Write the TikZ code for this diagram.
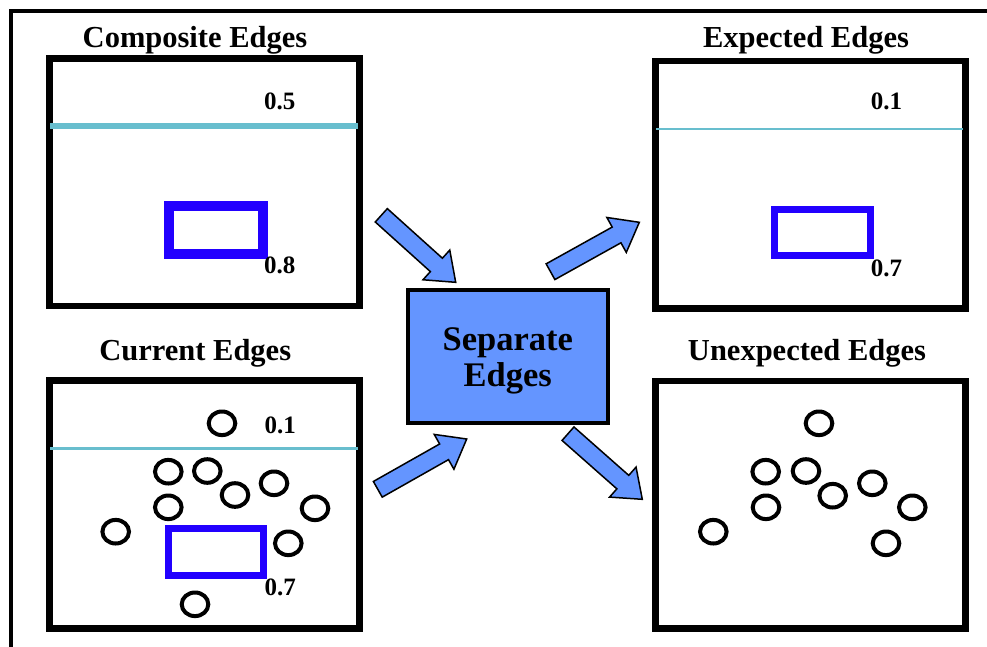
\documentclass[tikz,border=0pt]{standalone}
\usepackage{fontspec}
\setmainfont{Liberation Serif}
\usetikzlibrary{calc}

\definecolor{edgecyan}{RGB}{104,190,206}
\definecolor{rectblue}{RGB}{34,0,255}
\definecolor{arrowblue}{RGB}{100,149,255}

% fat block arrow from #1 to #2
\newcommand{\blockarrow}[2]{%
\filldraw [fill=arrowblue, draw=black, line width=1.5pt, line join=miter]
 ($(#1)!9pt!90:(#2)$) -- ($(#2)!26pt!(#1)!9pt!-90:(#1)$) -- ($(#2)!26pt!(#1)!20pt!-90:(#1)$) -- (#2)
 -- ($(#2)!26pt!(#1)!20pt!90:(#1)$) -- ($(#2)!26pt!(#1)!9pt!90:(#1)$) -- ($(#1)!9pt!-90:(#2)$) -- cycle;}

\begin{document}
\begin{tikzpicture}[x=1pt,y=1pt,
  panel/.style={draw=black, line width=6.7pt, minimum width=310.3pt, minimum height=247.7pt},
  sepbox/.style={draw=black, line width=4pt, fill=arrowblue, minimum width=199.5pt, minimum height=132.7pt,
    align=center, font=\fontsize{34.5}{36}\selectfont\bfseries},
  title/.style={font=\fontsize{30.5}{36}\selectfont\bfseries, anchor=base},
  val/.style={font=\fontsize{25}{30}\selectfont\bfseries, anchor=base west},
  dot/.style={draw=black, line width=4pt}]
\tikzstyle{every node}+=[inner sep=0pt]
\useasboundingbox (0,0) rectangle (987,-646);
% outer frame
\draw [black, line width=3.3pt] (11,-650) -- (11,-11) -- (990,-11);
% panels
\node [panel] (comp) at (204.3,-182.15) {};
\node [panel] (expct) at (810.5,-184.75) {};
\node [panel] (curr) at (204.3,-504.35) {};
\node [panel] (unexp) at (810.5,-504.75) {};
\node [title] (comptitle) at (195,-47) {Composite Edges};
\node [title] (expcttitle) at (806,-47) {Expected Edges};
\node [title] (currtitle) at (195.3,-360.7) {Current Edges};
\node [title] (unexptitle) at (807,-360.7) {Unexpected Edges};
% composite
\draw [edgecyan, line width=6pt] (50,-126) -- (357.7,-126);
\draw [rectblue, line width=10pt] (168.7,-206) rectangle (263,-253.7);
\node [val] (comptop) at (264,-109) {0.5};
\node [val] (compbot) at (264,-273.3) {0.8};
% expected
\draw [edgecyan, line width=2.5pt] (656,-129) -- (963.3,-129);
\draw [rectblue, line width=7pt] (774.7,-209) rectangle (870,-255.8);
\node [val] (expcttop) at (870.7,-109) {0.1};
\node [val] (expctbot) at (870.7,-276) {0.7};
% current
\draw [edgecyan, line width=2.5pt] (50,-448.3) -- (357.7,-448.3);
\draw [rectblue, line width=7pt] (168.7,-528.3) rectangle (263,-575.5);
\node [val] (currtop) at (264.3,-433.3) {0.1};
\node [val] (currbot) at (264.3,-595) {0.7};
\foreach \cx/\cy in {222/-423.3, 168.3/-471.7, 207.3/-471, 235/-495, 274/-483.3,
    168.3/-507.3, 315/-508.3, 115.7/-531.7, 288.3/-543.3, 195/-604.3}
  \draw [dot] (\cx,\cy) ellipse [x radius=13.3pt, y radius=11.8pt];
% unexpected
\foreach \cx/\cy in {819/-423.3, 765.7/-471.7, 806/-471, 832.7/-495.7, 872.3/-483.3,
    766/-507.3, 912.3/-507.3, 713.3/-531.7, 886/-543.3}
  \draw [dot] (\cx,\cy) ellipse [x radius=13.3pt, y radius=11.8pt];
% separator
\node [sepbox] (sep) at (507.75,-356.65) {\rule{0pt}{32pt}Separate\\Edges};
% arrows
\coordinate (fromcomp) at (381.3,-215.3);
\coordinate (sepin1) at (455.7,-282.3);
\coordinate (sepout1) at (550.5,-271.7);
\coordinate (toexpct) at (639.3,-222.3);
\coordinate (fromcurr) at (377.8,-489.3);
\coordinate (sepin2) at (466.7,-439);
\coordinate (sepout2) at (568,-433.7);
\coordinate (tounexp) at (642.3,-499.3);
\blockarrow{fromcomp}{sepin1}
\blockarrow{sepout1}{toexpct}
\blockarrow{fromcurr}{sepin2}
\blockarrow{sepout2}{tounexp}
\end{tikzpicture}
\end{document}
